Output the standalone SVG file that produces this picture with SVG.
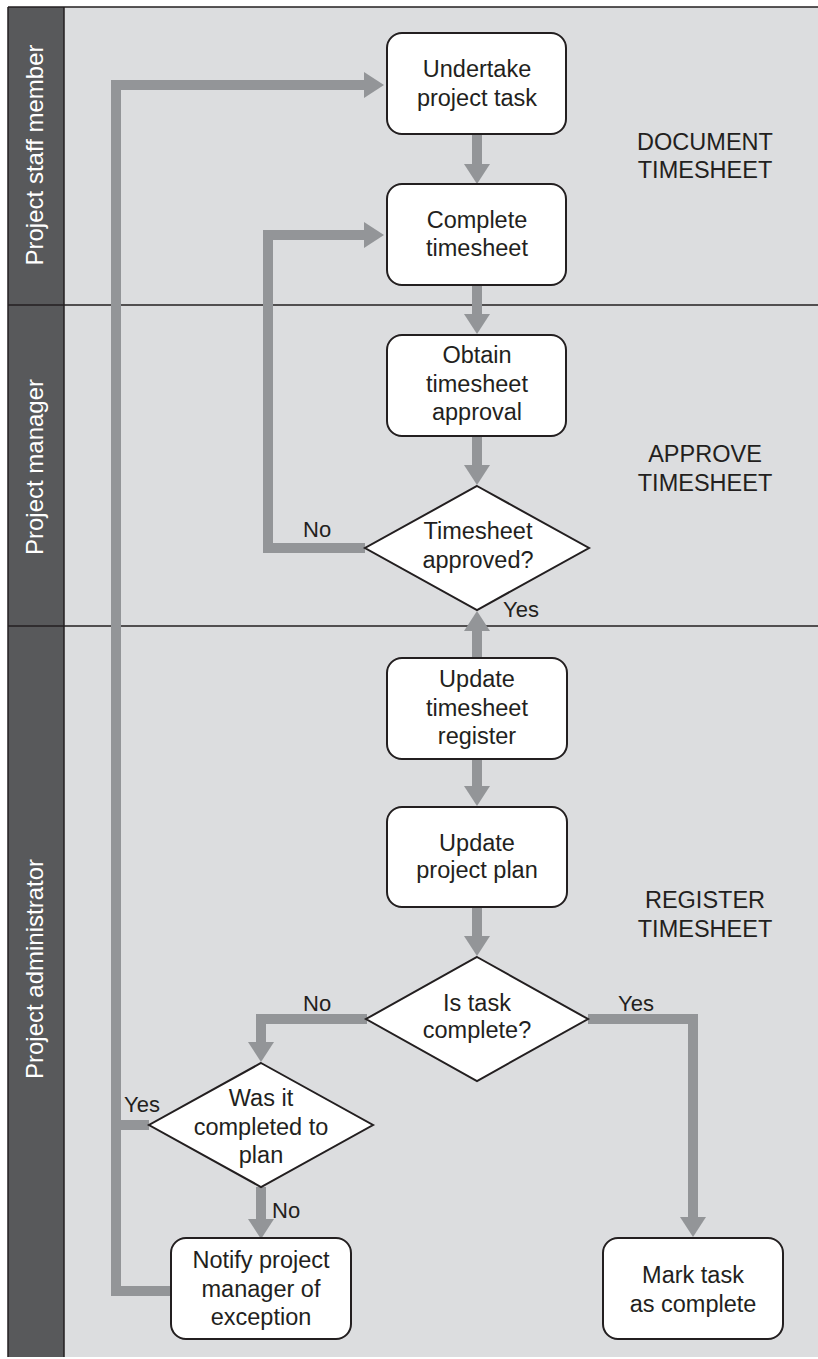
<svg xmlns="http://www.w3.org/2000/svg" width="818" height="1359" viewBox="0 0 818 1359">
  <defs>
    <marker id="head" markerUnits="userSpaceOnUse" markerWidth="20" markerHeight="26" viewBox="0 0 20 26" refX="1" refY="13" orient="auto">
      <path d="M0,0 L20,13 L0,26 Z" fill="#939598"/>
    </marker>
    <style>
      .lane { fill: #dcdddf; }
      .laneHead { fill: #58595b; }
      .rule { stroke: #231f20; stroke-width: 1.5; fill: none; }
      .box { fill: #ffffff; stroke: #231f20; stroke-width: 2; }
      .t { font-family: "Liberation Sans", Arial, sans-serif; font-size: 23.5px; fill: #231f20; text-anchor: middle; }
      .lbl { font-family: "Liberation Sans", Arial, sans-serif; font-size: 22px; fill: #231f20; }
      .laneText { font-family: "Liberation Sans", Arial, sans-serif; font-size: 24px; fill: #ffffff; text-anchor: middle; }
      .flow { fill: none; stroke: #939598; stroke-width: 10; stroke-linejoin: miter; stroke-linecap: butt; }
      .arrow { marker-end: url(#head); }
    </style>
  </defs>

  <!-- swimlane frame -->
  <g id="lanes">
    <rect class="lane" x="8" y="7" width="810" height="1350"/>
    <rect class="laneHead" x="8" y="7" width="56" height="1350"/>
    <line class="rule" x1="8" y1="7" x2="818" y2="7"/>
    <line class="rule" x1="8" y1="7" x2="8" y2="1357"/>
    <line class="rule" x1="64" y1="7" x2="64" y2="1357"/>
    <line class="rule" x1="8" y1="305" x2="818" y2="305"/>
    <line class="rule" x1="8" y1="626" x2="818" y2="626"/>
    <text class="laneText" transform="translate(43,155) rotate(-90)">Project staff member</text>
    <text class="laneText" transform="translate(43,467) rotate(-90)">Project manager</text>
    <text class="laneText" transform="translate(43,969) rotate(-90)">Project administrator</text>
  </g>

  <!-- phase captions -->
  <g id="phases">
    <text class="t"><tspan x="705" y="150">DOCUMENT</tspan><tspan x="705" y="178">TIMESHEET</tspan></text>
    <text class="t"><tspan x="705" y="462">APPROVE</tspan><tspan x="705" y="491">TIMESHEET</tspan></text>
    <text class="t"><tspan x="705" y="908">REGISTER</tspan><tspan x="705" y="937">TIMESHEET</tspan></text>
  </g>

  <!-- connectors -->
  <g id="connectors">
    <path class="flow arrow" d="M477,134 V165"/>
    <path class="flow arrow" d="M477,285 V315"/>
    <path class="flow arrow" d="M477,436 V466"/>
    <path class="flow arrow" d="M365,548 H268 V235 H365"/>
    <path class="flow arrow" d="M477,658 V630"/>
    <path class="flow arrow" d="M477,759 V787"/>
    <path class="flow arrow" d="M477,907 V937"/>
    <path class="flow arrow" d="M367,1019 H261 V1043"/>
    <path class="flow arrow" d="M588,1019 H693 V1218"/>
    <path class="flow arrow" d="M261,1187 V1220"/>
    <path class="flow arrow" d="M171,1291 H116 V85 H365"/>
    <path class="flow" d="M149,1125 H116"/>
    <text class="lbl" x="303" y="537">No</text>
    <text class="lbl" x="503" y="617">Yes</text>
    <text class="lbl" x="303" y="1011">No</text>
    <text class="lbl" x="618" y="1011">Yes</text>
    <text class="lbl" x="124" y="1112">Yes</text>
    <text class="lbl" x="272" y="1218">No</text>
  </g>

  <g id="undertake">
    <rect class="box" x="387" y="33" width="179" height="101" rx="15"/>
    <text class="t"><tspan x="477" y="77">Undertake</tspan><tspan x="477" y="106">project task</tspan></text>
  </g>

  <g id="complete">
    <rect class="box" x="387" y="184" width="179" height="101" rx="15"/>
    <text class="t"><tspan x="477" y="228">Complete</tspan><tspan x="477" y="256">timesheet</tspan></text>
  </g>

  <g id="obtain">
    <rect class="box" x="387" y="335" width="179" height="101" rx="15"/>
    <text class="t"><tspan x="477" y="363">Obtain</tspan><tspan x="477" y="392">timesheet</tspan><tspan x="477" y="420">approval</tspan></text>
  </g>

  <g id="approved">
    <polygon class="box" points="477,486 589,548 477,610 365,548"/>
    <text class="t"><tspan x="478" y="539">Timesheet</tspan><tspan x="478" y="568">approved?</tspan></text>
  </g>

  <g id="register">
    <rect class="box" x="387" y="658" width="180" height="101" rx="15"/>
    <text class="t"><tspan x="477" y="687">Update</tspan><tspan x="477" y="716">timesheet</tspan><tspan x="477" y="744">register</tspan></text>
  </g>

  <g id="plan">
    <rect class="box" x="387" y="807" width="180" height="100" rx="15"/>
    <text class="t"><tspan x="477" y="851">Update</tspan><tspan x="477" y="878">project plan</tspan></text>
  </g>

  <g id="taskComplete">
    <polygon class="box" points="477,957 588,1019 477,1081 366,1019"/>
    <text class="t"><tspan x="477" y="1011">Is task</tspan><tspan x="477" y="1038">complete?</tspan></text>
  </g>

  <g id="toPlan">
    <polygon class="box" points="261,1063 373,1125 261,1187 149,1125"/>
    <text class="t"><tspan x="261" y="1106">Was it</tspan><tspan x="261" y="1135">completed to</tspan><tspan x="261" y="1163">plan</tspan></text>
  </g>

  <g id="notify">
    <rect class="box" x="171" y="1238" width="180" height="101" rx="15"/>
    <text class="t"><tspan x="261" y="1268">Notify project</tspan><tspan x="261" y="1297">manager of</tspan><tspan x="261" y="1325">exception</tspan></text>
  </g>

  <g id="markComplete">
    <rect class="box" x="603" y="1238" width="180" height="101" rx="15"/>
    <text class="t"><tspan x="693" y="1283">Mark task</tspan><tspan x="693" y="1312">as complete</tspan></text>
  </g>
</svg>
